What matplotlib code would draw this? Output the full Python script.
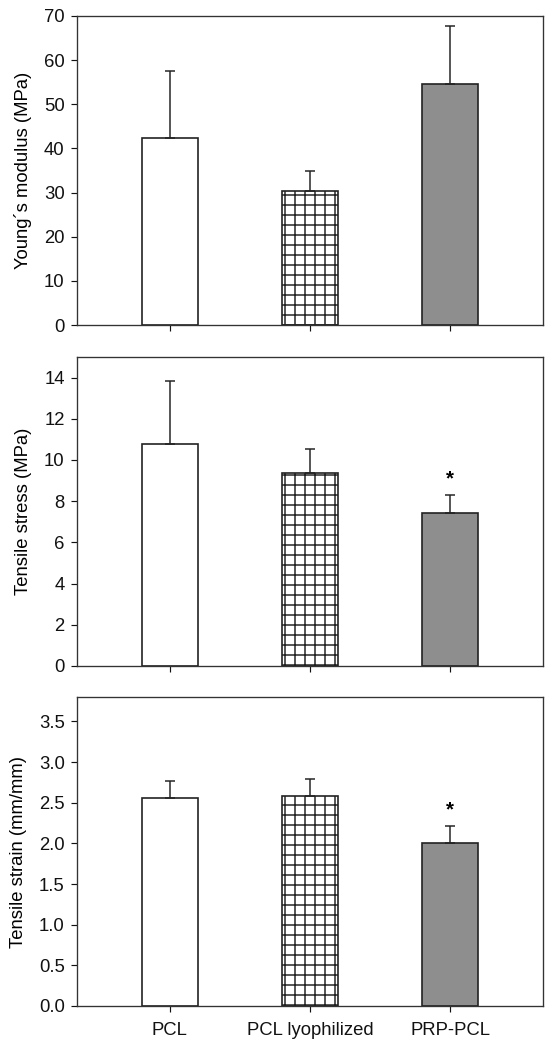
import numpy as np
import matplotlib
matplotlib.use("Agg")
import matplotlib.pyplot as plt

# data (mean and upper SD)
groups = ["PCL", "PCL lyophilized", "PRP-PCL"]
young_mean = [42.4, 30.4, 54.6]
young_sd = [15.1, 4.5, 13.1]
stress_mean = [10.79, 9.36, 7.45]
stress_sd = [3.04, 1.17, 0.86]
strain_mean = [2.56, 2.58, 2.01]
strain_sd = [0.21, 0.21, 0.20]

DPI = 120
plt.rcParams['font.family'] = ['Liberation Sans', 'DejaVu Sans']
plt.rcParams['hatch.linewidth'] = 0.9
plt.rcParams['hatch.color'] = 'black'
fs = 18.5 * 72 / DPI

fig = plt.figure(figsize=(556 / DPI, 1050 / DPI), dpi=DPI)

panels = [
    (young_mean, young_sd, "Young\u00b4s modulus (MPa)", (0, 70), np.arange(0, 71, 10), None, "%d"),
    (stress_mean, stress_sd, "Tensile stress (MPa)", (0, 15), np.arange(0, 15, 2), 2, "%d"),
    (strain_mean, strain_sd, "Tensile strain (mm/mm)", (0, 3.8), np.arange(0, 3.6, 0.5), 2, "%.1f"),
]
bottoms_px = [325, 666, 1006]

x = np.arange(len(groups))
faces = ['white', 'white', '#8e8e8e']
hatches = [None, '++', None]

for i, (mean, sd, label, ylim, yticks, star_idx, fmt) in enumerate(panels):
    b = bottoms_px[i]
    ax = fig.add_axes([77 / 556, 1 - b / 1050, 466 / 556, 309 / 1050])
    for j in range(len(groups)):
        ax.bar(x[j], mean[j], width=0.4, color=faces[j], edgecolor='#222222',
               linewidth=1.0, hatch=hatches[j], zorder=2)
    ax.errorbar(x, mean, yerr=[np.zeros(len(sd)), sd], fmt='none', ecolor='#222222',
                elinewidth=0.9, capsize=3, capthick=0.9, zorder=3)
    if star_idx is not None:
        ax.annotate("*", (x[star_idx], mean[star_idx] + sd[star_idx]),
                    xytext=(0, 4), textcoords='offset points', ha='center', va='bottom',
                    fontsize=fs * 1.1, fontweight='bold')
    ax.set_xlim(-0.66, 2.66)
    ax.set_ylim(*ylim)
    ax.set_yticks(yticks)
    ax.set_yticklabels([fmt % v for v in yticks])
    ax.set_xticks(x)
    if i == 2:
        ax.set_xticklabels(groups)
    else:
        ax.set_xticklabels([])
    ax.tick_params(axis='both', direction='out', length=3.4, width=0.7, labelsize=fs,
                   pad=4.0, colors='#111111')
    ax.tick_params(axis='x', pad=6)
    ax.set_ylabel(label, fontsize=fs, labelpad=7)
    for s in ax.spines.values():
        s.set_linewidth(0.8)
        s.set_color('#333333')

fig.savefig("out.png", dpi=DPI)
